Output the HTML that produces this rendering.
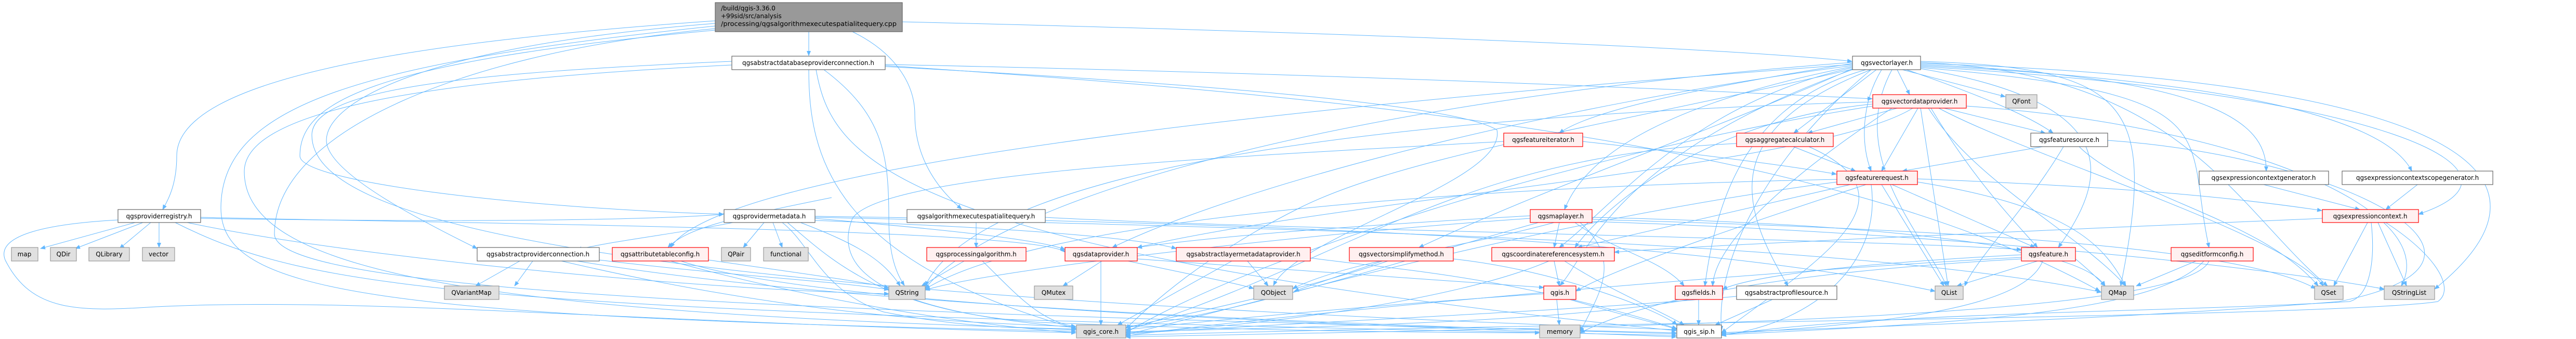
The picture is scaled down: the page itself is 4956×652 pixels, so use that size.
<!DOCTYPE html>
<html><head><meta charset="utf-8"><style>
html,body{margin:0;padding:0;background:#fff}
svg{display:block}
text{font-family:"DejaVu Sans","Liberation Sans",sans-serif;font-size:12px;fill:#000}
.e{fill:none;stroke:#63b8ff;stroke-width:1}
.w{fill:#fff;stroke:#666;stroke-width:1.2}
.r{fill:#fff0f0;stroke:#ff0000;stroke-width:1.2}
.g{fill:#e0e0e0;stroke:#999;stroke-width:1.2}
</style></head><body>
<svg width="4956" height="652" viewBox="0 0 4956 652" xmlns="http://www.w3.org/2000/svg">
<defs><marker id="a" markerWidth="10" markerHeight="8" refX="9" refY="4" orient="auto" markerUnits="userSpaceOnUse"><path d="M0,0 L10,4 L0,8 z" fill="#63b8ff"/></marker></defs>
<g class="e" marker-end="url(#a)">
<!-- main -->
<path d="M1376,40 C800,80 340,150 340,300 C340,360 320,390 313,403"/>
<path d="M1556,61 L1556,107"/>
<path d="M1640,61 C1720,100 1760,160 1760,220 C1760,300 1800,360 1850,402"/>
<path d="M1736,42 C2500,60 3300,90 3563,118"/>
<path d="M1376,45 C800,90 628,200 628,270 C628,330 800,420 918,478"/>
<path d="M1376,50 C700,120 425,200 425,400 C425,560 700,610 2070,637"/>
<path d="M1376,58 C700,120 577,200 577,300 C577,350 1000,400 1392,412"/>
<path d="M1376,55 C900,100 528,250 528,450 C528,560 1500,600 3225,640"/>
<!-- adbpc -->
<path d="M1408,125 C900,150 470,200 470,330 C470,520 900,600 2070,633"/>
<path d="M1408,118 C900,140 600,170 600,260 C600,420 1100,560 3225,634"/>
<path d="M1556,134 C1556,300 1600,500 2070,632"/>
<path d="M1570,134 C1600,300 1700,480 3225,636"/>
<path d="M1585,134 C1700,220 1710,300 1710,420 C1710,480 1720,520 1740,549"/>
<path d="M1703,124 C2500,140 3200,170 3602,190"/>
<path d="M1703,128 C2300,160 2800,200 2880,250 C2900,350 2500,450 2450,549"/>
<path d="M1703,126 C2500,180 3500,260 4040,560"/>
<!-- vl -->
<path d="M3650,134 L3674,182"/>
<path d="M3660,134 L3858,186"/>
<path d="M3610,134 L3451,256"/>
<path d="M3668,134 C3800,180 3900,220 3950,256"/>
<path d="M3620,134 C3580,200 3580,280 3600,329"/>
<path d="M3564,122 C3200,180 3050,220 3000,256"/>
<path d="M3564,128 C3200,200 3050,300 3010,403"/>
<path d="M3590,134 C3350,200 3300,400 3280,550"/>
<path d="M3600,134 C3300,250 3350,400 3440,550"/>
<path d="M3640,134 C3550,300 3700,450 3745,550"/>
<path d="M3695,118 C4100,130 4150,200 4080,550"/>
<path d="M3695,120 C4200,140 4300,400 4478,550"/>
<path d="M3695,122 C4600,150 5000,300 4684,556"/>
<path d="M3695,124 C4300,150 4360,250 4360,329"/>
<path d="M3695,126 C4400,160 4600,250 4640,329"/>
<path d="M3695,128 C4600,180 4900,330 4653,412"/>
<path d="M3695,130 C4300,180 4200,250 4250,476"/>
<path d="M3695,132 C4100,200 4050,350 3960,476"/>
<path d="M3564,130 C3250,200 3100,400 3000,476"/>
<path d="M3564,132 C3300,250 3000,350 2730,476"/>
<path d="M3564,126 C3000,200 2400,350 2140,476"/>
<path d="M3564,124 C2800,180 1400,300 1290,476"/>
<path d="M3564,133 C3100,240 2700,300 2500,400 C2300,500 2200,600 2166,632"/>
<path d="M3600,134 C3400,300 3300,500 3312,636"/>
<path d="M3564,134 C3100,300 3050,500 3001,549"/>
<path d="M3564,120 C2500,200 1900,400 1780,555"/>
<!-- vdp -->
<path d="M3650,208 L3478,256"/>
<path d="M3690,208 L3620,329"/>
<path d="M3740,208 L3935,256"/>
<path d="M3715,208 C3800,350 3880,430 3920,476"/>
<path d="M3695,208 L3748,550"/>
<path d="M3710,208 C3800,350 4000,450 4090,550"/>
<path d="M3730,208 C3900,300 4400,450 4470,550"/>
<path d="M3783,204 C4300,240 4700,400 4620,550"/>
<path d="M3680,208 C3500,320 2600,380 2188,476"/>
<path d="M3603,200 C3300,230 3100,380 3030,476"/>
<path d="M3640,208 C3500,300 3300,450 3295,550"/>
<path d="M3603,196 C2800,220 1900,300 1780,550"/>
<path d="M3603,204 C3000,300 2400,500 2166,640"/>
<!-- fi, agg, fs -->
<path d="M3045,272 C3300,300 3450,320 3533,335"/>
<path d="M2893,272 C2400,300 1700,330 1640,420 C1600,520 1700,600 2070,630"/>
<path d="M3341,276 C2800,300 2600,500 2166,636"/>
<path d="M3450,282 L3570,329"/>
<path d="M3480,282 C3700,380 3500,500 3312,640"/>
<path d="M3930,282 L3660,329"/>
<path d="M4000,282 C4100,380 4350,420 4460,550"/>
<path d="M3970,282 C3900,400 3800,500 3780,550"/>
<path d="M4055,270 C4500,300 4900,500 4500,580 C4000,620 3500,630 3312,640"/>
<!-- fr -->
<path d="M3640,355 L3915,476"/>
<path d="M3620,355 L3740,550"/>
<path d="M3560,355 L3035,476"/>
<path d="M3590,355 C3300,450 3100,520 3032,560"/>
<path d="M3689,344 C4100,360 4300,380 4467,405"/>
<path d="M3534,345 C2800,360 2000,420 1780,556"/>
<path d="M3600,355 C3620,500 3500,620 3312,645"/>
<path d="M3534,350 C3000,420 2500,560 2166,644"/>
<path d="M3689,350 C4000,400 4050,480 4090,550"/>
<path d="M4355,355 L4540,403"/>
<path d="M4651,355 L4590,403"/>
<!-- preg -->
<path d="M260,428 L78,478"/>
<path d="M275,428 L145,478"/>
<path d="M290,428 L230,478"/>
<path d="M306,428 L306,476"/>
<path d="M227,423 C100,430 -10,450 10,500 C60,600 150,600 300,590 C700,570 1200,620 2070,640"/>
<path d="M337,428 C600,560 900,600 3225,645"/>
<path d="M360,428 C700,500 1400,560 1710,565"/>
<path d="M386,418 C900,430 2000,440 2049,485"/>
<path d="M386,420 C1000,430 1300,420 1392,412"/>
<!-- pm -->
<path d="M1410,428 C1300,450 1200,460 1110,480"/>
<path d="M1600,380 C1400,420 1320,440 1285,476"/>
<path d="M1470,428 L1430,476"/>
<path d="M1487,428 L1505,476"/>
<path d="M1540,428 C1650,470 1700,500 1732,550"/>
<path d="M1505,428 C1560,470 1580,560 1700,600 C1850,630 1950,630 2070,634"/>
<path d="M1515,428 C1600,500 1700,600 2000,620 C2500,640 2900,640 2962,640"/>
<path d="M1568,420 C1800,440 2000,460 2049,480"/>
<path d="M1568,424 C2000,440 2200,460 2263,478"/>
<path d="M1568,418 C2600,440 3600,470 4043,562"/>
<path d="M1568,416 C2600,430 3300,470 3723,560"/>
<!-- aesq -->
<path d="M1878,428 L1878,476"/>
<path d="M2011,418 C2400,440 3600,460 3889,480"/>
<!-- ml -->
<path d="M2944,415 C2500,440 2300,460 2188,476"/>
<path d="M3000,428 L2990,476"/>
<path d="M2990,428 C2800,480 2600,500 2487,555"/>
<path d="M2944,420 C2500,450 1900,520 1780,558"/>
<path d="M2960,428 C2700,500 2400,600 2166,630"/>
<path d="M3030,428 C3100,480 3200,500 3240,550"/>
<path d="M3063,418 C3600,430 4000,470 4050,550"/>
<path d="M3063,422 C3700,440 4300,470 4455,555"/>
<path d="M3063,426 C3800,450 4400,520 4587,556"/>
<path d="M3040,428 C3120,500 3080,560 3040,638"/>
<!-- ec -->
<path d="M4555,428 L4490,550"/>
<path d="M4575,428 L4630,550"/>
<path d="M4468,420 C4000,440 3300,470 3106,485"/>
<path d="M4562,428 C4570,500 4560,570 4520,580 C4200,600 3600,600 3312,645"/>
<path d="M4590,428 C4700,500 4720,560 4690,580 C4500,610 3000,620 2166,645"/>
<!-- F row -->
<path d="M1025,502 L990,550"/>
<path d="M1000,502 L915,550"/>
<path d="M1153,500 C1400,530 1600,540 1710,557"/>
<path d="M1080,502 C1500,600 1800,620 2070,628"/>
<path d="M1110,502 C1700,600 2800,630 3225,642"/>
<path d="M1363,500 C1500,520 1650,540 1710,553"/>
<path d="M1290,502 C1500,560 1800,620 2070,640"/>
<path d="M1310,502 C1600,600 2800,630 3225,648"/>
<path d="M1855,502 L1773,550"/>
<path d="M1890,502 C1950,560 2000,620 2070,628"/>
<path d="M2120,502 L2045,550"/>
<path d="M2118,502 L2118,625"/>
<path d="M2170,502 C2300,530 2380,545 2412,555"/>
<path d="M2188,498 C2500,520 2800,540 2970,553"/>
<path d="M2400,502 L2440,550"/>
<path d="M2370,502 L2150,625"/>
<path d="M2520,496 C2700,520 2900,530 3226,632"/>
<path d="M2660,502 L2490,560"/>
<path d="M2670,502 C2500,560 2300,600 2166,630"/>
<path d="M2796,498 C3000,520 3200,600 3226,625"/>
<path d="M2990,502 L3000,550"/>
<path d="M2980,502 C2800,580 2400,630 2166,640"/>
<path d="M3010,502 C3100,560 3200,600 3240,625"/>
<path d="M3920,502 L3765,550"/>
<path d="M3889,490 C3700,500 3400,520 3314,556"/>
<path d="M3930,502 C3900,580 3700,620 3312,642"/>
<path d="M3889,495 C3400,520 2500,600 2166,646"/>
<path d="M3993,498 C4020,520 4040,540 4050,550"/>
<path d="M3889,498 C3500,520 3200,560 3040,640"/>
<path d="M4225,502 L4110,550"/>
<path d="M4240,502 C4150,600 3800,620 3312,644"/>
<path d="M4250,502 C4200,620 3000,630 2166,648"/>
<!-- G row -->
<path d="M2970,565 C2600,590 2300,620 2166,634"/>
<path d="M2995,576 L3000,625"/>
<path d="M3020,576 C3100,600 3180,620 3226,633"/>
<path d="M3268,576 L3268,625"/>
<path d="M3250,576 C3000,620 2500,630 2166,638"/>
<path d="M3410,576 L3300,625"/>
<path d="M3341,570 C3000,600 2500,620 2166,642"/>
</g>
<!-- nodes -->
<rect class="g" x="1376" y="5" width="360" height="56" style="fill:#999;stroke:#666"/>
<text x="1387" y="20">/build/qgis-3.36.0</text>
<text x="1387" y="35">+99sid/src/analysis</text>
<text x="1387" y="50" textLength="338" lengthAdjust="spacingAndGlyphs">/processing/qgsalgorithmexecutespatialitequery.cpp</text>
<g text-anchor="middle">
<rect class="w" x="1408" y="108" width="295" height="26"/><text x="1555" y="125">qgsabstractdatabaseproviderconnection.h</text>
<rect class="w" x="3564" y="108" width="131" height="26"/><text x="3630" y="125">qgsvectorlayer.h</text>
<rect class="r" x="3603" y="182" width="180" height="26"/><text x="3693" y="199">qgsvectordataprovider.h</text>
<rect class="g" x="3859" y="182" width="60" height="26"/><text x="3889" y="199">QFont</text>
<rect class="r" x="2893" y="256" width="152" height="26"/><text x="2969" y="273">qgsfeatureiterator.h</text>
<rect class="r" x="3341" y="256" width="186" height="26"/><text x="3434" y="273">qgsaggregatecalculator.h</text>
<rect class="w" x="3907" y="256" width="148" height="26"/><text x="3981" y="273">qgsfeaturesource.h</text>
<rect class="r" x="3534" y="329" width="155" height="26"/><text x="3611" y="346">qgsfeaturerequest.h</text>
<rect class="w" x="4231" y="329" width="249" height="26"/><text x="4355" y="346">qgsexpressioncontextgenerator.h</text>
<rect class="w" x="4506" y="329" width="290" height="26"/><text x="4651" y="346">qgsexpressioncontextscopegenerator.h</text>
<rect class="w" x="227" y="403" width="159" height="25"/><text x="306" y="420">qgsproviderregistry.h</text>
<rect class="w" x="1393" y="403" width="175" height="25"/><text x="1480" y="420">qgsprovidermetadata.h</text>
<rect class="w" x="1745" y="403" width="266" height="25"/><text x="1878" y="420">qgsalgorithmexecutespatialitequery.h</text>
<rect class="r" x="2944" y="403" width="119" height="25"/><text x="3003" y="420">qgsmaplayer.h</text>
<rect class="r" x="4468" y="403" width="185" height="25"/><text x="4560" y="420">qgsexpressioncontext.h</text>
<rect class="g" x="22" y="476" width="51" height="26"/><text x="47" y="493">map</text>
<rect class="g" x="97" y="476" width="50" height="26"/><text x="122" y="493">QDir</text>
<rect class="g" x="171" y="476" width="78" height="26"/><text x="210" y="493">QLibrary</text>
<rect class="g" x="274" y="476" width="62" height="26"/><text x="305" y="493">vector</text>
<rect class="w" x="918" y="476" width="235" height="26"/><text x="1035" y="493">qgsabstractproviderconnection.h</text>
<rect class="r" x="1178" y="476" width="185" height="26"/><text x="1270" y="493">qgsattributetableconfig.h</text>
<rect class="g" x="1388" y="476" width="56" height="26"/><text x="1416" y="493">QPair</text>
<rect class="g" x="1469" y="476" width="86" height="26"/><text x="1512" y="493">functional</text>
<rect class="r" x="1783" y="476" width="191" height="26"/><text x="1878" y="493">qgsprocessingalgorithm.h</text>
<rect class="r" x="2049" y="476" width="139" height="26"/><text x="2118" y="493">qgsdataprovider.h</text>
<rect class="r" x="2263" y="476" width="258" height="26"/><text x="2392" y="493">qgsabstractlayermetadataprovider.h</text>
<rect class="r" x="2596" y="476" width="200" height="26"/><text x="2696" y="493">qgsvectorsimplifymethod.h</text>
<rect class="r" x="2870" y="476" width="236" height="26"/><text x="2988" y="493">qgscoordinatereferencesystem.h</text>
<rect class="r" x="3889" y="476" width="104" height="26"/><text x="3941" y="493">qgsfeature.h</text>
<rect class="r" x="4177" y="476" width="158" height="26"/><text x="4256" y="493">qgseditformconfig.h</text>
<rect class="g" x="855" y="550" width="105" height="26"/><text x="907" y="567">QVariantMap</text>
<rect class="g" x="1710" y="550" width="70" height="26"/><text x="1745" y="567">QString</text>
<rect class="g" x="1990" y="550" width="74" height="26"/><text x="2027" y="567">QMutex</text>
<rect class="g" x="2412" y="550" width="75" height="26"/><text x="2450" y="567">QObject</text>
<rect class="r" x="2970" y="550" width="62" height="26"/><text x="3001" y="567">qgis.h</text>
<rect class="r" x="3223" y="550" width="91" height="26"/><text x="3268" y="567">qgsfields.h</text>
<rect class="w" x="3341" y="550" width="193" height="26"/><text x="3437" y="567">qgsabstractprofilesource.h</text>
<rect class="g" x="3723" y="550" width="54" height="26"/><text x="3750" y="567">QList</text>
<rect class="g" x="4043" y="550" width="62" height="26"/><text x="4074" y="567">QMap</text>
<rect class="g" x="4453" y="550" width="55" height="26"/><text x="4480" y="567">QSet</text>
<rect class="g" x="4587" y="550" width="97" height="26"/><text x="4635" y="567">QStringList</text>
<rect class="g" x="2071" y="625" width="95" height="25"/><text x="2118" y="642">qgis_core.h</text>
<rect class="g" x="2962" y="625" width="78" height="25"/><text x="3001" y="642">memory</text>
<rect class="w" x="3226" y="625" width="86" height="25"/><text x="3269" y="642">qgis_sip.h</text>
</g>
</svg>
</body></html>
